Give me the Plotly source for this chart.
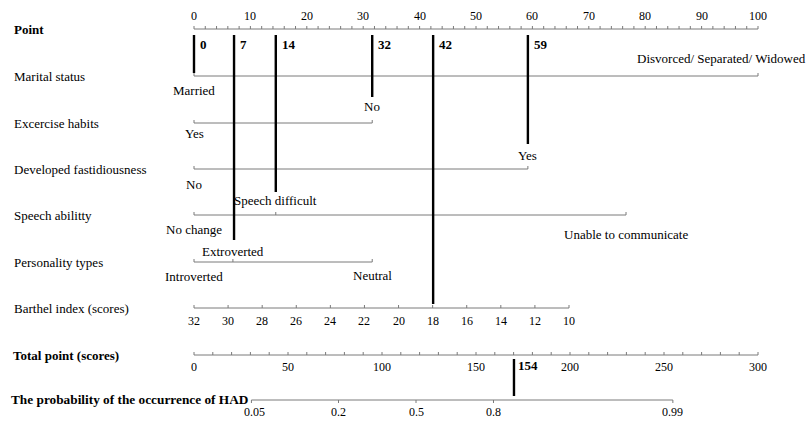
import math
import plotly.graph_objects as go

# ---------------- data ----------------
variables = ["Marital status", "Excercise habits", "Developed fastidiousness",
             "Speech abilitty", "Personality types"]
levels = [
    ["Married", "Disvorced/ Separated/ Widowed"],
    ["Yes", "No"],
    ["No", "Yes"],
    ["No change", "Speech difficult", "Unable to communicate"],
    ["Introverted", "Extroverted", "Neutral"],
]
level_points = [
    [0, 100],
    [0, 31.6],
    [0, 59.2],
    [0, 14.5, 76.6],
    [0, 6.9, 31.6],
]
point_ticks = list(range(0, 101, 2))
point_labels = list(range(0, 101, 10))

barthel_ticks = list(range(32, 9, -2))

total_ticks = list(range(0, 301, 10))
total_labels = list(range(0, 301, 50))

prob_ticks = [0.05, 0.2, 0.5, 0.8, 0.99]

marker_points = [0, 7.1, 14.5, 31.6, 42.4, 59.2]
marker_labels = ["0", "7", "14", "32", "42", "59"]
total_marker_pos = 170.2
total_marker_label = "154"

# ---------------- layout constants ----------------
W, H = 809, 422
X0, X100 = 194, 758           # pixel of 0 and 100 points
PX = (X100 - X0) / 100.0
TOT_PX = (X100 - X0) / 300.0
B_X32, B_X10 = 194, 569
B_PX = (B_X10 - B_X32) / 22.0
L_X0, L_PX = 416, 55.9        # logit 0 pixel, pixels per logit unit

row_y = {"Point": 29, "Marital status": 76, "Excercise habits": 123,
         "Developed fastidiousness": 169, "Speech abilitty": 215,
         "Personality types": 262, "Barthel index (scores)": 308,
         "Total point (scores)": 355, "prob": 400}
level_dy = [
    [14, -18],
    [10, -17],
    [15, -14],
    [14, -15, 19],
    [14, -11, 13],
]
marker_end = [73, 240, 192, 97, 304, 144]

GREY = "#7a7a7a"
FONT = "Liberation Serif"

fig = go.Figure()
ann = []

def seg_trace(xs_pairs, xa, color=GREY, width=1):
    xs, ys = [], []
    for (x1, y1, x2, y2) in xs_pairs:
        xs += [x1, x2, None]
        ys += [y1, y2, None]
    fig.add_trace(go.Scatter(x=xs, y=ys, mode="lines", xaxis=xa, yaxis="y",
                             line=dict(color=color, width=width),
                             hoverinfo="skip", showlegend=False))

def text(x, y, s, xref="x", size=13, bold=False, xanchor="center", xshift=0):
    ann.append(dict(x=x, y=y, xref=xref, yref="y", text=("<b>%s</b>" % s) if bold else s,
                    showarrow=False, xanchor=xanchor, yanchor="middle", xshift=xshift,
                    font=dict(family=FONT, size=size, color="black")))

# Row labels
text(12 / W, row_y["Point"], "Point", xref="paper", bold=True, xanchor="left")
for v in variables + ["Barthel index (scores)"]:
    text(12 / W, row_y[v], v, xref="paper", xanchor="left")
text(11 / W, row_y["Total point (scores)"], "Total point (scores)", xref="paper", bold=True, xanchor="left")
text(9 / W, row_y["prob"] - 1, "The probability of the occurrence of HAD", xref="paper",
     size=13.3, bold=True, xanchor="left")

# Points axis
y = row_y["Point"]
seg_trace([(0, y, 100, y)], "x")
seg_trace([(t, y, t, y - 3) for t in point_ticks], "x")
for t in point_labels:
    text(t, 16, str(t), size=12)

# Variable rows
for v, lv, pts, dys in zip(variables, levels, level_points, level_dy):
    y = row_y[v]
    seg_trace([(min(pts), y, max(pts), y)], "x")
    seg_trace([(p, y, p, y - 3) for p in pts], "x")
    for name, p, dy in zip(lv, pts, dys):
        if name.startswith("Disvorced"):
            text(p, y + dy, name, xanchor="right", xshift=50)
        else:
            text(p, y + dy, name)

# Barthel axis
y = row_y["Barthel index (scores)"]
seg_trace([(barthel_ticks[0], y, barthel_ticks[-1], y)], "x3")
seg_trace([(t, y, t, y - 3) for t in barthel_ticks], "x3")
for t in barthel_ticks:
    text(t, 321, str(t), xref="x3", size=12)

# Total points axis
y = row_y["Total point (scores)"]
seg_trace([(0, y, 300, y)], "x2")
seg_trace([(t, y, t, y - 3) for t in total_ticks], "x2")
for t in total_labels:
    text(t, 367, str(t), xref="x2", size=12)

# Probability axis (logit scale)
logit = lambda p: math.log(p / (1 - p))
y = row_y["prob"]
seg_trace([(logit(prob_ticks[0]), y, logit(prob_ticks[-1]), y)], "x4")
seg_trace([(logit(t), y, logit(t), y + 3) for t in prob_ticks], "x4")
for t in prob_ticks:
    text(logit(t), 412, str(t), xref="x4", size=12, xshift=3 if t == 0.05 else 0)

# Markers
seg_trace([(p, 35, p, e) for p, e in zip(marker_points, marker_end)], "x", color="black", width=2.4)
for p, s in zip(marker_points, marker_labels):
    text(p, 44, s, bold=True, xanchor="left", xshift=4)
seg_trace([(total_marker_pos, 359, total_marker_pos, 396)], "x2", color="black", width=2.4)
text(total_marker_pos, 365, total_marker_label, xref="x2", bold=True, xanchor="left", xshift=2)

def rng(x_at_zero_px, px_per_unit):
    return [-x_at_zero_px / px_per_unit, (W - x_at_zero_px) / px_per_unit]

xr1 = rng(X0, PX)
xr2 = rng(X0, TOT_PX)
xr3 = [32 + B_X32 / B_PX, 32 - (W - B_X32) / B_PX]
xr4 = rng(L_X0, L_PX)

ax = dict(visible=False, fixedrange=True, domain=[0, 1])
fig.update_layout(
    width=W, height=H, margin=dict(l=0, r=0, t=0, b=0),
    paper_bgcolor="white", plot_bgcolor="white", showlegend=False,
    xaxis=dict(range=xr1, **ax),
    xaxis2=dict(range=xr2, overlaying="x", anchor="y", **ax),
    xaxis3=dict(range=xr3, overlaying="x", anchor="y", **ax),
    xaxis4=dict(range=xr4, overlaying="x", anchor="y", **ax),
    yaxis=dict(range=[H, 0], **ax),
    annotations=ann,
)
fig.write_html("out.html", config={"displayModeBar": False, "staticPlot": True},
               post_script="document.body.style.margin='0';document.body.style.overflow='hidden';")
